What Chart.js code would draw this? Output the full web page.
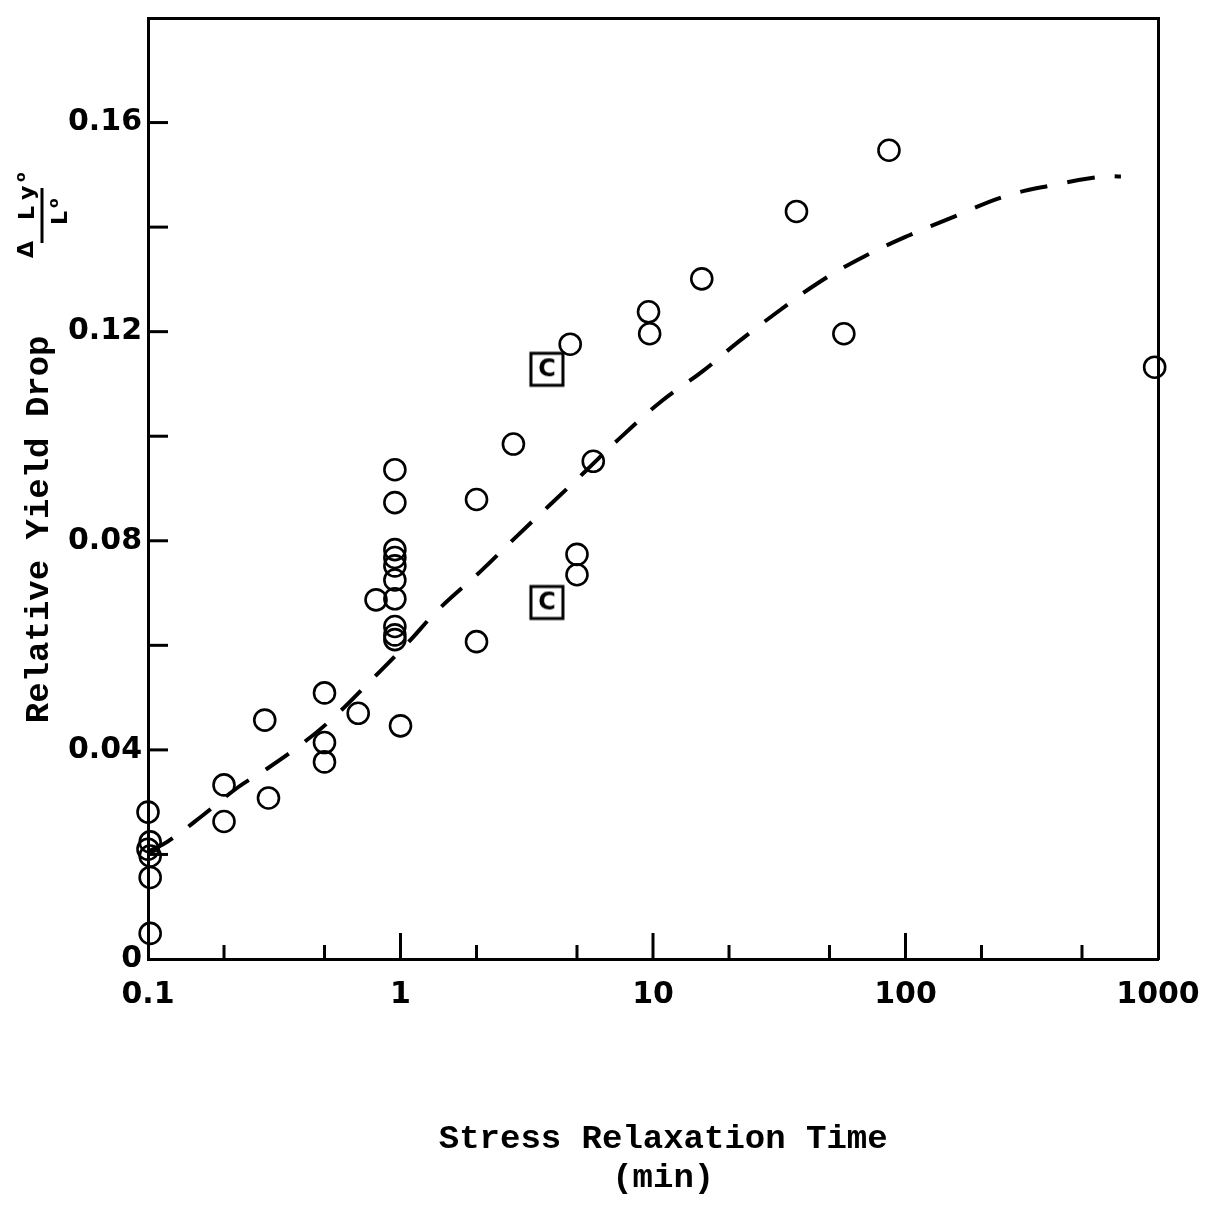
<!DOCTYPE html>
<html><head><meta charset="utf-8">
<script src="https://cdn.jsdelivr.net/npm/chart.js@4.4.1/dist/chart.umd.min.js"></script>
<style>html,body{margin:0;padding:0;background:#fff;} #wrap{width:1221px;height:1211px;}</style>
</head><body><div id="wrap"><canvas id="c" width="1221" height="1211"></canvas></div>
<script>
// ---- data ----
const circleX = [0.1, 0.102, 0.1, 0.102, 0.102, 0.102,
  0.2, 0.2,
  0.29, 0.3,
  0.5, 0.5, 0.5,
  0.68,
  0.8,
  0.95, 0.95, 0.95, 0.95, 0.95, 0.95, 0.95, 0.95, 0.95, 0.95,
  1.0,
  2, 2,
  2.8,
  4.7,
  5, 5,
  5.8,
  9.6, 9.7,
  15.6,
  37,
  57,
  86,
  970];
const circleY = [0.0281, 0.0224, 0.0210, 0.0197, 0.0156, 0.0049,
  0.0333, 0.0263,
  0.0457, 0.0308,
  0.0509, 0.0414, 0.0377,
  0.0470,
  0.0687,
  0.0936, 0.0873, 0.0783, 0.0768, 0.0752, 0.0725, 0.0689, 0.0636, 0.0620, 0.0611,
  0.0446,
  0.0879, 0.0607,
  0.0985,
  0.1176,
  0.0774, 0.0735,
  0.0952,
  0.1238, 0.1196,
  0.1301,
  0.1430,
  0.1196,
  0.1547,
  0.1132];
const boxX = [3.8, 3.8];
const boxY = [0.1128, 0.0682];
const boxLabel = 'C';
const fitX = [0.1, 0.12, 0.165, 0.228, 0.29, 0.393, 0.532, 0.768, 1.07, 1.41, 2.07, 2.85, 3.93, 5.4, 7.3, 10.8, 15.7, 21.7, 31.6, 46, 68, 103, 156, 244, 380, 608, 713];
const fitY = [0.0205, 0.0225, 0.0275, 0.0329, 0.0361, 0.0406, 0.0458, 0.0534, 0.0605, 0.0668, 0.0741, 0.0806, 0.0870, 0.0933, 0.0994, 0.1067, 0.1124, 0.1180, 0.1240, 0.1296, 0.1343, 0.1384, 0.1420, 0.1458, 0.1480, 0.1497, 0.1497];
const xLabelValues = [0.1, 1, 10, 100, 1000];
const xLabelTexts = ['0.1', '1', '10', '100', '1000'];
const xMajorTicks = [1, 10, 100];
const xMinorTicks = [0.2, 0.5, 2, 5, 20, 50, 200, 500];
const yLabelValues = [0, 0.04, 0.08, 0.12, 0.16];
const yLabelTexts = ['0', '0.04', '0.08', '0.12', '0.16'];
const yTickValues = [0.02, 0.04, 0.06, 0.08, 0.10, 0.12, 0.14, 0.16];
const xMin = 0.1, xMax = 1000, yMin = 0, yMax = 0.18;
const xTitle = [' Stress Relaxation Time', ' (min)'];
const yTitle = 'Relative Yield Drop';

// ---- boxed "C" marker image ----
function boxMarker(){
  const c = document.createElement('canvas');
  c.width = 38; c.height = 38;
  const g = c.getContext('2d');
  g.strokeStyle = '#000'; g.lineWidth = 3;
  g.strokeRect(3, 3, 32, 32);
  g.fillStyle = '#000';
  g.font = 'bold 24px "DejaVu Sans"';
  g.textAlign = 'center'; g.textBaseline = 'middle';
  g.fillText(boxLabel, 19, 20);
  return c;
}

const innerTicks = {
  id: 'innerTicks',
  afterDraw(chart){
    const {ctx, chartArea: a, scales: {x, y}} = chart;
    ctx.save();
    ctx.strokeStyle = '#000'; ctx.lineWidth = 3; ctx.lineCap = 'butt';
    const seg = (x1, y1, x2, y2) => { ctx.beginPath(); ctx.moveTo(x1, y1); ctx.lineTo(x2, y2); ctx.stroke(); };
    xMajorTicks.forEach(v => { const p = x.getPixelForValue(v); seg(p, a.bottom, p, a.bottom - 26); });
    xMinorTicks.forEach(v => { const p = x.getPixelForValue(v); seg(p, a.bottom, p, a.bottom - 14); });
    yTickValues.forEach(v => { const p = y.getPixelForValue(v); seg(a.left, p, a.left + 20, p); });
    // fraction symbol  ΔLyo / Lo  (rotated)
    ctx.translate(42, 250);
    ctx.rotate(-Math.PI / 2);
    ctx.fillStyle = '#000';
    ctx.textBaseline = 'alphabetic'; ctx.textAlign = 'left';
    ctx.font = 'bold 22px "DejaVu Sans"';
    ctx.fillText('\u0394', -8, -9);
    ctx.fillText('L', 30, -8);
    ctx.fillText('y', 50, -8);
    ctx.fillText('L', 25, 25);
    ctx.font = 'bold 14px "DejaVu Sans"';
    ctx.fillText('o', 68, -17);
    ctx.fillText('o', 42, 16);
    ctx.lineWidth = 3;
    seg(7, 0, 62, 0);
    ctx.restore();
  }
};

const pts = (xs, ys) => xs.map((v, i) => ({x: v, y: ys[i]}));
const labelFont = {family: '"DejaVu Sans"', size: 30, weight: 'bold'};
const titleFont = {family: '"Liberation Mono"', size: 34, weight: 'bold', lineHeight: 1.12};

new Chart(document.getElementById('c'), {
  type: 'scatter',
  data: {
    datasets: [
      {
        label: 'fit', data: pts(fitX, fitY), showLine: true,
        borderColor: '#000', borderWidth: 4, borderDash: [28, 20],
        pointRadius: 0, tension: 0.4, fill: false, clip: false, xAxisID: 'x', yAxisID: 'y'
      },
      {
        label: 'data', data: pts(circleX, circleY),
        pointStyle: 'circle', pointRadius: 10.5, borderWidth: 2.6, clip: false,
        borderColor: '#000', backgroundColor: 'rgba(0,0,0,0)', xAxisID: 'x', yAxisID: 'y'
      },
      {
        label: 'C', data: pts(boxX, boxY), clip: false,
        pointStyle: boxMarker(), pointRadius: 17, xAxisID: 'x', yAxisID: 'y'
      }
    ]
  },
  options: {
    responsive: false, animation: false, devicePixelRatio: 1,
    layout: {padding: {top: 17, left: 0, right: 63, bottom: 0}},
    plugins: {legend: {display: false}, tooltip: {enabled: false}},
    scales: {
      x: {
        type: 'logarithmic', position: 'bottom', min: xMin, max: xMax,
        afterBuildTicks: s => { s.ticks = xLabelValues.map(v => ({value: v})); },
        afterFit: s => { s.height = 252; s.paddingLeft = 0; s.paddingRight = 0; },
        ticks: {callback: (v, i) => xLabelTexts[i], font: labelFont, color: '#000', padding: 18, maxRotation: 0, autoSkip: false},
        grid: {display: true, drawOnChartArea: false, drawTicks: false},
        border: {display: true, color: '#000', width: 3},
        title: {display: true, text: xTitle, font: titleFont, color: '#000', padding: {top: 0, bottom: 14}}
      },
      y: {
        type: 'linear', position: 'left', min: yMin, max: yMax,
        afterBuildTicks: s => { s.ticks = yLabelValues.map(v => ({value: v})); },
        afterFit: s => { s.width = 148; s.paddingTop = 0; s.paddingBottom = 0; },
        ticks: {callback: (v, i) => yLabelTexts[i], font: labelFont, color: '#000', padding: 6, autoSkip: false},
        grid: {display: true, drawOnChartArea: false, drawTicks: false},
        border: {display: true, color: '#000', width: 3},
        title: {display: true, text: yTitle + '    ', font: titleFont, color: '#000', padding: {top: 20, bottom: 0}}
      },
      xTop: {
        type: 'logarithmic', position: 'top', min: xMin, max: xMax,
        afterFit: s => { s.height = 0; s.paddingLeft = 0; s.paddingRight = 0; },
        ticks: {display: false},
        grid: {display: true, drawOnChartArea: false, drawTicks: false},
        border: {display: true, color: '#000', width: 3}
      },
      yRight: {
        type: 'linear', position: 'right', min: yMin, max: yMax,
        afterFit: s => { s.width = 0; s.paddingTop = 0; s.paddingBottom = 0; },
        ticks: {display: false},
        grid: {display: true, drawOnChartArea: false, drawTicks: false},
        border: {display: true, color: '#000', width: 3}
      }
    }
  },
  plugins: [innerTicks]
});
</script>
</body></html>
